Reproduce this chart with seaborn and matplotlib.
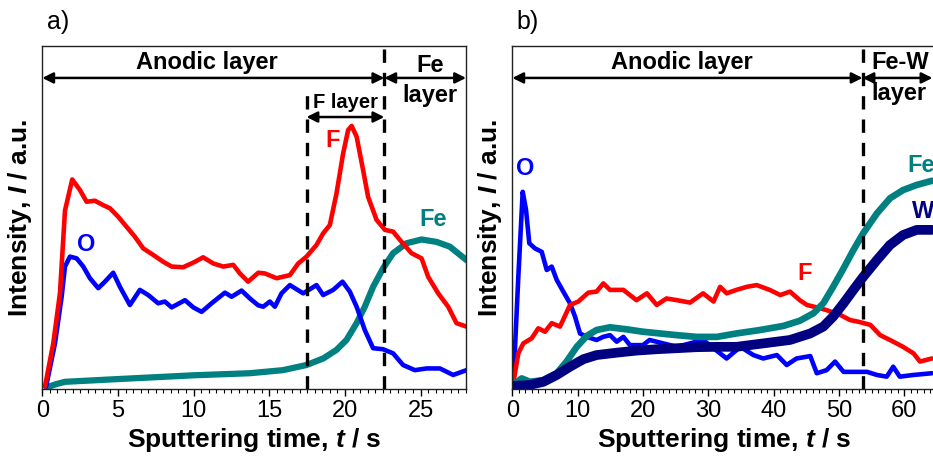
import matplotlib
matplotlib.use("Agg")
import matplotlib.pyplot as plt
import seaborn as sns
import pandas as pd
from matplotlib.ticker import MultipleLocator, NullLocator

# ---- panel a) : anodic layer on Fe ----
a_F_t = [0.18, 0.73, 1.17, 1.5, 1.98, 2.49, 2.93, 3.48, 4.03, 4.47, 5.02, 5.57, 6.12, 6.67, 7.33,
         7.99, 8.55, 9.31, 10.09, 10.63, 11.3, 11.96, 12.62, 13.06, 13.6, 14.27, 14.71, 15.48,
         16.36, 16.91, 17.46, 18.12, 18.56, 19.0, 19.44, 19.88, 20.21, 20.44, 20.77, 21.2, 21.53,
         22.09, 22.64, 23.18, 23.74, 24.4, 25.06, 25.5, 26.16, 26.82, 27.37, 28.03]
a_F_y = [0.7, 13.4, 28, 52, 61.1, 58, 54.6, 54.9, 53.6, 52.7, 50.2, 47.3, 44.4, 41, 39.1,
         37.1, 35.7, 35.5, 37.1, 38.4, 36.6, 35.7, 36.2, 33.7, 31.3, 33.9, 33.7, 32.3,
         33.2, 36.6, 38.6, 42, 45.4, 47.8, 57, 68.7, 75.5, 76.7, 73.6, 63.8, 56,
         49.3, 46.4, 45.9, 42.9, 39.6, 38.1, 32.7, 27.9, 24, 19.2, 18.2]

a_O_t = [0.25, 0.84, 1.28, 1.5, 1.83, 2.27, 2.71, 3.15, 3.7, 4.14, 4.69, 5.13, 5.79, 6.45, 7.0,
         7.66, 8.1, 8.55, 9.43, 9.98, 10.53, 11.19, 12.07, 12.51, 13.17, 13.72, 14.27, 14.6,
         15.04, 15.37, 15.81, 16.36, 17.24, 18.12, 18.56, 19.22, 19.84, 20.32, 20.77, 21.31,
         21.86, 22.52, 23.18, 23.84, 24.62, 25.39, 26.27, 27.15, 28.03]
a_O_y = [0.7, 13.3, 26.9, 35.7, 38.6, 38.1, 35.7, 32.3, 29.4, 31.3, 33.9, 29.8, 24.5, 28.9, 27.4,
         25, 25.5, 23.8, 25.9, 23.8, 22.5, 25, 28.1, 26.9, 28.7, 26.4, 24.4, 24,
         25.5, 24, 27.9, 30.3, 27.9, 30.3, 27.4, 28.9, 31.3, 28.4, 24, 17.2,
         11.9, 11.6, 10.4, 7, 5.5, 6, 6, 4.1, 5.5]

a_Fe_t = [0.3, 0.9, 1.5, 5.0, 10.0, 13.7, 15.9, 17.46, 18.56, 19.44, 20.1, 20.77, 21.31, 21.86,
          22.52, 23.18, 24.07, 25.06, 26.05, 26.93, 28.03]
a_Fe_y = [0.5, 1.4, 2.1, 2.9, 4.0, 4.6, 5.5, 7, 8.9, 11.4, 14.3, 19.2, 24, 29.8,
          35.2, 39.6, 42.5, 43.6, 42.9, 41.5, 37.6]

# ---- panel b) : anodic layer on Fe-W ----
b_O_t = [0.15, 0.92, 1.59, 2.1, 2.6, 3.47, 4.5, 5.27, 6.03, 6.8, 7.8, 8.83, 9.6, 10.36, 11.39,
         12.9, 13.9, 14.95, 15.98, 17.0, 18.0, 20.0, 21.0, 25.2, 29.2, 32.8, 34.9, 36.9, 38.4,
         40.5, 42.0, 43.5, 45.6, 46.6, 48.1, 49.4, 50.7, 52.2, 54.3, 55.8, 57.3, 58.3, 59.3,
         61.4, 64.2]
b_O_y = [1.2, 32.7, 57.5, 52.2, 42.5, 41, 40, 34.7, 35.7, 31.8, 28.4, 25, 21.1, 16.2, 15.2,
         14.3, 15.2, 15.7, 13.8, 15.2, 12.8, 12.8, 14.3, 12.3, 14.3, 8.9, 12.3, 9.9, 8.9,
         9.9, 7, 8.9, 9.6, 4.6, 5.5, 8, 5, 5, 5, 4.1, 3.6, 6.5, 3.6,
         4.1, 4.6]

b_F_t = [0.15, 0.92, 1.68, 2.97, 3.98, 5.0, 6.03, 7.3, 8.83, 10.1, 11.63, 12.9, 13.93, 14.95,
         17.0, 19.0, 20.6, 22.1, 23.6, 25.2, 27.2, 29.2, 30.8, 31.8, 32.8, 34.3, 35.9, 37.4,
         39.4, 41.0, 42.5, 44.0, 45.1, 46.6, 48.1, 50.2, 51.7, 53.0, 54.8, 56.3, 57.8, 59.8,
         61.4, 62.4, 64.2]
b_F_y = [1.7, 10.4, 13.3, 14.8, 17.7, 16.7, 19.2, 18.2, 24.5, 25.5, 28.1, 28.4, 30.8, 28.9,
         28.9, 25.9, 27.9, 24.5, 26.4, 25.9, 25.2, 27.9, 25.5, 29.8, 27.9, 28.9, 29.8, 30.3,
         28.9, 27.4, 28.4, 25.9, 24.5, 23.8, 23, 21.6, 20.1, 19.6, 18.7, 15.7, 14.3, 12.3,
         10.4, 8, 8.9]

b_Fe_t = [0.15, 1.43, 2.7, 4.75, 6.8, 8.3, 9.86, 11.4, 12.9, 14.95, 17.5, 20.0, 22.6, 25.2,
          28.2, 31.3, 34.3, 37.9, 41.5, 44.0, 46.1, 47.6, 49.1, 50.7, 52.2, 53.7, 55.8, 57.8,
          59.8, 61.9, 64.2]
b_Fe_y = [1.2, 3.1, 2.1, 2.6, 4.6, 8, 12.3, 15.5, 17.2, 18, 17.4, 16.7, 16.2, 15.7,
          15.2, 15.2, 16.2, 17.2, 18.4, 19.9, 22.1, 25, 29.8, 35.2, 40.5, 45.4, 51.2, 55.6,
          58, 59.5, 60.7]

b_W_t = [0.15, 2.7, 4.75, 6.8, 8.83, 10.87, 12.9, 16.0, 19.0, 22.1, 25.2, 28.2, 31.3, 34.3,
         38.4, 42.5, 45.6, 47.6, 49.1, 50.7, 52.2, 53.7, 55.8, 57.8, 59.8, 61.9, 64.2]
b_W_y = [0.9, 1.2, 2.1, 4.1, 6.5, 8.7, 9.9, 10.6, 11.2, 11.6, 11.9, 12.2, 12.3, 12.3,
         13.3, 14.3, 16.2, 18.2, 21.1, 25, 28.9, 32.7, 37.6, 42, 44.9, 46.4, 46.4]

RED, BLUE, TEAL, NAVY = "#FF0000", "#0000FF", "#008080", "#000080"

sns.set_style("ticks")
plt.rcParams["font.family"] = ["Liberation Sans", "DejaVu Sans"]
plt.rcParams["text.color"] = "black"
plt.rcParams["axes.labelcolor"] = "black"
plt.rcParams["xtick.color"] = "black"
plt.rcParams["xtick.labelcolor"] = "black"
plt.rcParams["mathtext.fontset"] = "custom"
plt.rcParams["mathtext.rm"] = "Liberation Sans"
plt.rcParams["mathtext.it"] = "Liberation Sans:italic"
plt.rcParams["mathtext.bf"] = "Liberation Sans:bold"
plt.rcParams["mathtext.bfit"] = "Liberation Sans:italic:bold"

fig = plt.figure(figsize=(9.33, 4.65), dpi=100)
ax_a = fig.add_axes([0.0453, 0.1634, 0.4542, 0.7376])
ax_b = fig.add_axes([0.5491, 0.1634, 0.4552, 0.7376])


def draw(ax, t, y, color, lw):
    df = pd.DataFrame({"t": t, "y": y})
    sns.lineplot(data=df, x="t", y="y", ax=ax, color=color, lw=lw,
                 sort=False, estimator=None, solid_joinstyle="round")


def style(ax, xmax, major, minor):
    ax.set_xlim(0, xmax)
    ax.set_ylim(0, 100)
    ax.xaxis.set_major_locator(MultipleLocator(major))
    ax.xaxis.set_minor_locator(MultipleLocator(minor))
    ax.yaxis.set_major_locator(NullLocator())
    ax.yaxis.set_minor_locator(NullLocator())
    ax.tick_params(axis="x", which="major", direction="out", length=5, width=1,
                   labelsize=17, pad=3)
    ax.tick_params(axis="x", which="minor", direction="out", length=3, width=0.8)
    for s in ax.spines.values():
        s.set_linewidth(1.0)
        s.set_color("#222222")
    ax.set_xlabel("Sputtering time, $\\mathbfit{t}$ / s", fontsize=19,
                  fontweight="bold", labelpad=3)
    ax.set_ylabel("Intensity, $\\mathbfit{I}$ / a.u.", fontsize=19,
                  fontweight="bold", labelpad=6)


def arrow(ax, x0, x1, y):
    ax.annotate("", xy=(x1, y), xytext=(x0, y),
                arrowprops=dict(arrowstyle="<|-|>", color="black", lw=1.8,
                                mutation_scale=16, shrinkA=0, shrinkB=0))


dash = dict(color="black", lw=2.4, linestyle=(0, (4, 3)))
txt = dict(fontsize=17, fontweight="bold")

# panel a
draw(ax_a, a_Fe_t, a_Fe_y, TEAL, 4.5)
draw(ax_a, a_O_t, a_O_y, BLUE, 3.3)
draw(ax_a, a_F_t, a_F_y, RED, 3.3)
style(ax_a, 28, 5, 0.5)
ax_a.plot([17.46, 17.46], [0, 87.8], **dash)
ax_a.plot([22.6, 22.6], [0, 100], **dash)
arrow(ax_a, 0, 22.6, 90.7)
arrow(ax_a, 22.6, 28, 90.7)
arrow(ax_a, 17.46, 22.6, 79.3)
ax_a.text(10.9, 95.3, "Anodic layer", ha="center", va="center", **txt)
ax_a.text(25.6, 94.2, "Fe", ha="center", va="center", **txt)
ax_a.text(25.6, 85.6, "layer", ha="center", va="center", **txt)
ax_a.text(20.05, 83.4, "F layer", ha="center", va="center", fontsize=14.5,
          fontweight="bold")
ax_a.text(19.2, 72.6, "F", color=RED, ha="center", va="center", **txt)
ax_a.text(2.93, 42.0, "O", color=BLUE, ha="center", va="center", **txt)
ax_a.text(25.8, 49.3, "Fe", color=TEAL, ha="center", va="center", **txt)

# panel b
draw(ax_b, b_O_t, b_O_y, BLUE, 3.3)
draw(ax_b, b_F_t, b_F_y, RED, 3.3)
draw(ax_b, b_Fe_t, b_Fe_y, TEAL, 4.8)
draw(ax_b, b_W_t, b_W_y, NAVY, 7)
style(ax_b, 65, 10, 1)
ax_b.spines["right"].set_visible(False)
ax_b.plot([53.6, 53.6], [0, 100], **dash)
arrow(ax_b, 0, 53.6, 90.7)
arrow(ax_b, 53.6, 64.3, 90.7)
ax_b.text(25.9, 95.3, "Anodic layer", ha="center", va="center", **txt)
ax_b.text(54.9, 95.3, "Fe-W", ha="left", va="center", **txt)
ax_b.text(54.9, 86.3, "layer", ha="left", va="center", **txt)
ax_b.text(1.95, 64.3, "O", color=BLUE, ha="center", va="center", **txt)
ax_b.text(44.8, 33.7, "F", color=RED, ha="center", va="center", **txt)
ax_b.text(60.4, 65.3, "Fe", color=TEAL, ha="left", va="center", **txt)
ax_b.text(61.1, 51.7, "W", color=NAVY, ha="left", va="center", **txt)

fig.text(0.050, 0.952, "a)", fontsize=18, ha="left", va="center")
fig.text(0.554, 0.952, "b)", fontsize=18, ha="left", va="center")

fig.savefig("out.png", dpi=100)
